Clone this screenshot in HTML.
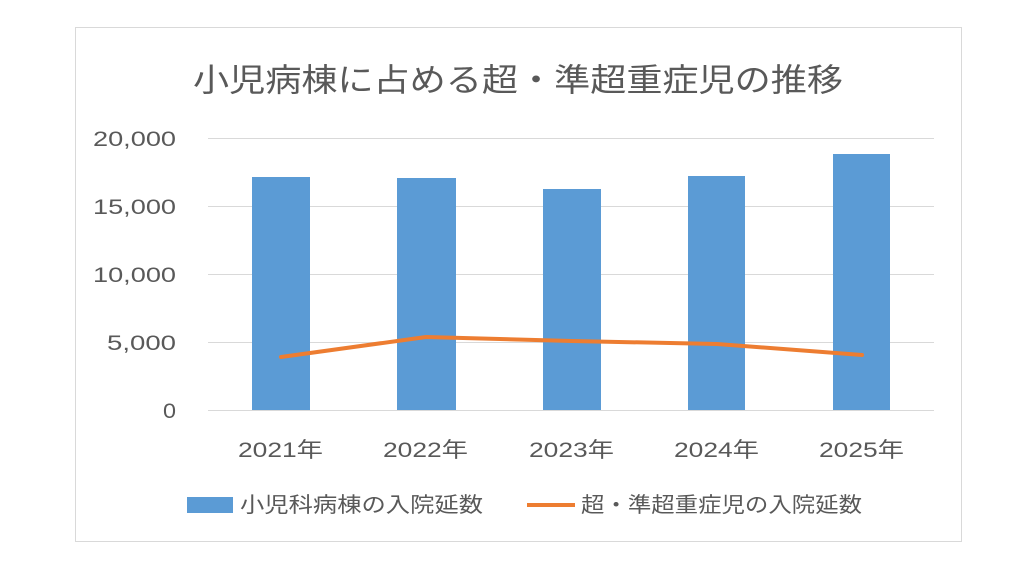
<!DOCTYPE html>
<html><head><meta charset="utf-8"><style>
body{margin:0;background:#fff;}
svg{display:block;}
text{font-family:"Liberation Sans","Noto Sans CJK JP",sans-serif;fill:#595959;}
</style></head><body>
<svg width="1024" height="576" viewBox="0 0 1024 576">
<rect x="75.5" y="27.5" width="886" height="514" fill="#fff" stroke="#d9d9d9" stroke-width="1"/>
<text x="193" y="91" font-size="32" textLength="650" lengthAdjust="spacingAndGlyphs">小児病棟に占める超・準超重症児の推移</text>
<g stroke="#d9d9d9" stroke-width="1">
<line x1="208" y1="138.5" x2="934" y2="138.5"/>
<line x1="208" y1="206.5" x2="934" y2="206.5"/>
<line x1="208" y1="274.5" x2="934" y2="274.5"/>
<line x1="208" y1="342.5" x2="934" y2="342.5"/>
<line x1="208" y1="410.5" x2="934" y2="410.5"/>
</g>
<g font-size="21">
<text x="93" y="146" textLength="83" lengthAdjust="spacingAndGlyphs">20,000</text>
<text x="93" y="214" textLength="83" lengthAdjust="spacingAndGlyphs">15,000</text>
<text x="93" y="282" textLength="83" lengthAdjust="spacingAndGlyphs">10,000</text>
<text x="107" y="350" textLength="69" lengthAdjust="spacingAndGlyphs">5,000</text>
<text x="163" y="418" textLength="13" lengthAdjust="spacingAndGlyphs">0</text>
</g>
<g fill="#5b9bd5">
<rect x="252" y="177" width="58" height="233"/>
<rect x="397" y="178" width="59" height="232"/>
<rect x="543" y="189" width="58" height="221"/>
<rect x="688" y="176" width="57" height="234"/>
<rect x="833" y="154" width="57" height="256"/>
</g>
<polyline points="281,357 426,337 572,341 717,344 862,355" fill="none" stroke="#ed7d31" stroke-width="4" stroke-linejoin="round" stroke-linecap="round"/>
<g font-size="21">
<text x="238" y="457" textLength="85" lengthAdjust="spacingAndGlyphs">2021年</text>
<text x="383" y="457" textLength="85" lengthAdjust="spacingAndGlyphs">2022年</text>
<text x="529" y="457" textLength="85" lengthAdjust="spacingAndGlyphs">2023年</text>
<text x="674" y="457" textLength="85" lengthAdjust="spacingAndGlyphs">2024年</text>
<text x="819" y="457" textLength="85" lengthAdjust="spacingAndGlyphs">2025年</text>
</g>
<rect x="187" y="497" width="46" height="16" fill="#5b9bd5"/>
<text x="240" y="512" font-size="21" textLength="243" lengthAdjust="spacingAndGlyphs">小児科病棟の入院延数</text>
<line x1="527" y1="505" x2="575" y2="505" stroke="#ed7d31" stroke-width="4"/>
<text x="581" y="512" font-size="21" textLength="281" lengthAdjust="spacingAndGlyphs">超・準超重症児の入院延数</text>
</svg>
</body></html>
